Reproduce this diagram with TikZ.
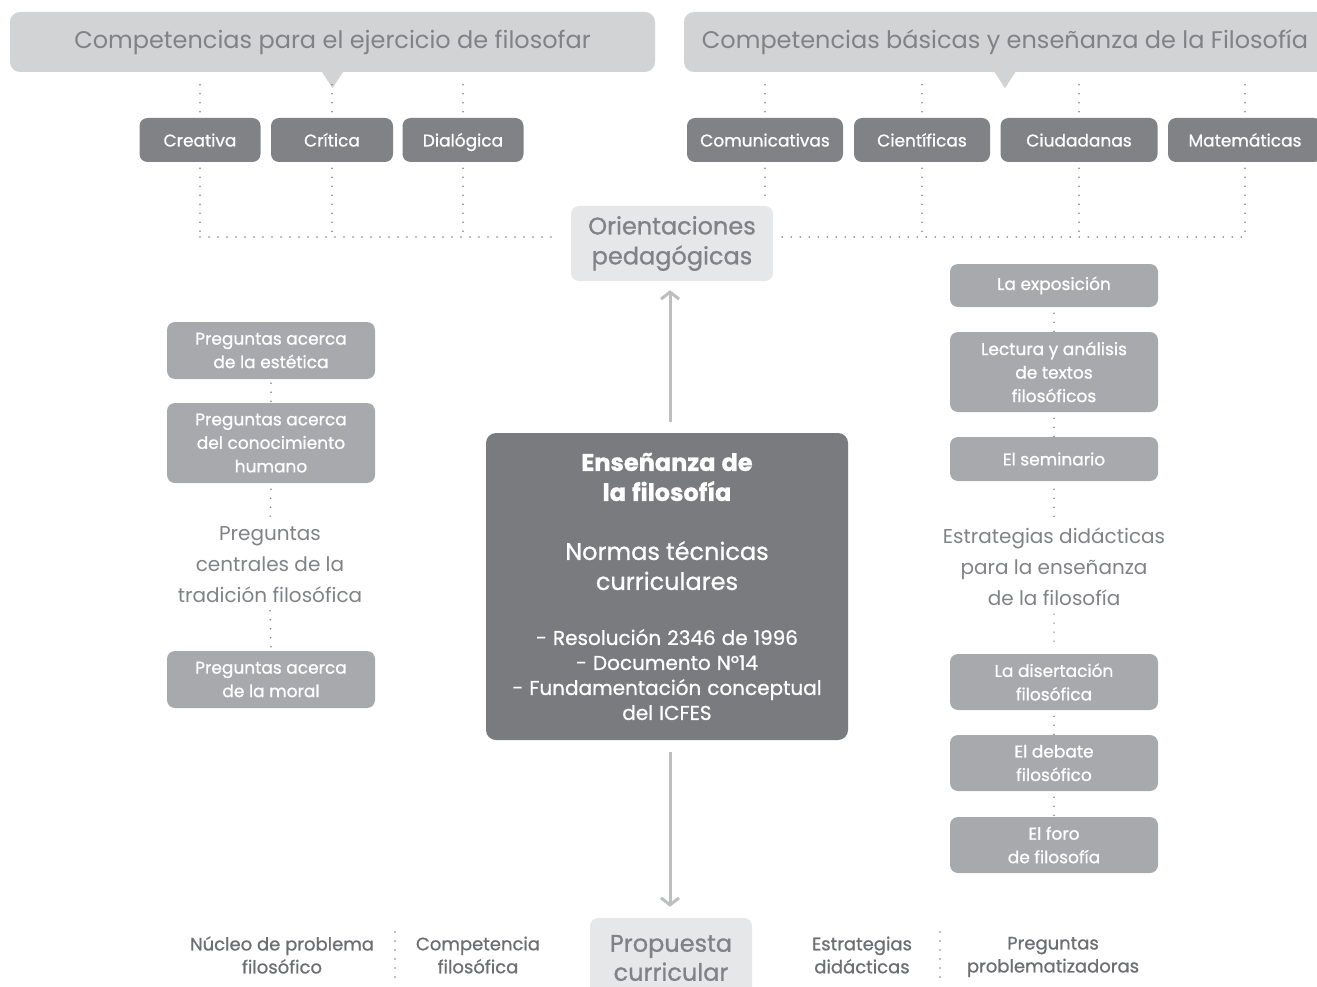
\documentclass[tikz,border=0pt]{standalone}
\usepackage{fontspec}
\setmainfont{Poppins}
\newfontfamily\medfont[FakeBold=0.9]{Poppins}
\usetikzlibrary{arrows.meta}
\definecolor{callgray}{HTML}{D1D3D4}
\definecolor{palegray}{HTML}{E6E7E8}
\definecolor{boxgray}{HTML}{808285}
\definecolor{maingray}{HTML}{7A7B7E}
\definecolor{midgray}{HTML}{A7A9AC}
\definecolor{titlegray}{HTML}{808285}
\definecolor{labelgray}{HTML}{6D6E71}
\definecolor{arrowgray}{HTML}{BCBEC0}
\begin{document}
\begin{tikzpicture}[x=1pt, y=-1pt,
	every node/.style={font=\medfont\fontsize{18}{23}\selectfont, align=center, inner sep=0pt},
	callout/.style={fill=callgray, rounded corners=10pt, minimum height=60pt, text=titlegray, font=\fontsize{24}{28}\selectfont},
	compbox/.style={fill=boxgray, rounded corners=8pt, minimum height=44pt, text height=15pt, text depth=2pt, text=white, font=\medfont\fontsize{17}{22}\selectfont},
	qbox/.style={fill=midgray, rounded corners=8pt, minimum width=208pt, text=white, font=\medfont\fontsize{17}{23.5}\selectfont},
	palebox/.style={fill=palegray, rounded corners=8pt, text=titlegray, font=\medfont\fontsize{24}{30}\selectfont},
	graytext/.style={text=titlegray, font=\fontsize{20}{31}\selectfont},
	smalltext/.style={text=labelgray},
	dots/.style={draw=titlegray, line width=1.7pt, line cap=round, dash pattern=on 0pt off 9pt},
	bigarrow/.style={draw=arrowgray, line width=3pt, -{Straight Barb[length=7pt, width=18pt, line width=3pt]}}]
	\clip (0,0) rectangle (1317,987);
	\coordinate (topdots) at (0,79);
	\coordinate (hline) at (0,237);
	\node[callout, minimum width=645pt] (filosofar) at (332.5,42) {Competencias para el ejercicio de filosofar};
	\fill[callgray] ([xshift=-11pt, yshift=1pt]filosofar.south) -- ([xshift=11pt, yshift=1pt]filosofar.south) -- ([yshift=-16pt]filosofar.south) -- cycle;
	\node[callout, minimum width=642pt] (basicas) at (1005,42) {Competencias básicas y enseñanza de la Filosofía};
	\fill[callgray] ([xshift=-11pt, yshift=1pt]basicas.south) -- ([xshift=11pt, yshift=1pt]basicas.south) -- ([yshift=-16pt]basicas.south) -- cycle;
	\foreach \n/\x/\w/\t in {creativa/200/121/Creativa, critica/332/122/Crítica, dialogica/463/121/Dialógica, comunicativas/765/156/Comunicativas, cientificas/922/136/Científicas, ciudadanas/1079/157/Ciudadanas, matematicas/1245/154/Matemáticas}
		\node[compbox, minimum width=\w pt] (\n) at (\x,140) {\t};
	\foreach \n in {creativa, critica, dialogica, comunicativas, cientificas, ciudadanas, matematicas}
		\draw[dots] ([yshift=6pt]\n.north) -- (\n.north |- topdots);
	\node[palebox, minimum width=202pt, minimum height=75pt] (orient) at (672,243.5) {Orientaciones\\pedagógicas};
	\foreach \n in {creativa, critica, dialogica, cientificas, ciudadanas, matematicas}
		\draw[dots] ([yshift=-6pt]\n.south) -- (\n.south |- hline);
	\draw[dots] ([yshift=-6pt]comunicativas.south) -- ([yshift=6pt]comunicativas.south |- orient.north);
	\draw[dots] (creativa.south |- hline) -- ([xshift=-14pt]orient.west |- hline);
	\draw[dots] ([xshift=9pt]orient.east |- hline) -- (matematicas.south |- hline);
	\node[fill=maingray, rounded corners=10pt, minimum width=362pt, minimum height=307pt, text width=350pt, text=white] (ensenanza) at (667,586.5) {%
		\fontsize{24}{30}\selectfont\bfseries Enseñanza de\\la filosofía\par
		\vspace{29pt}\mdseries\medfont Normas técnicas\\curriculares\par
		\vspace{30pt}\fontsize{20}{25}\selectfont - Resolución 2346 de 1996\\- Documento N°14\\- Fundamentación conceptual\\del ICFES\par};
	\draw[bigarrow, shorten <=11pt, shorten >=9pt] (ensenanza.north -| 670,0) -- (orient.south -| 670,0);
	\node[qbox, minimum height=57pt] (estetica) at (271,350.5) {Preguntas acerca\\de la estética};
	\node[qbox, minimum height=80pt] (conocimiento) at (271,443) {Preguntas acerca\\del conocimiento\\humano};
	\node[graytext] (centrales) at (270,564.5) {Preguntas\\centrales de la\\tradición filosófica};
	\node[qbox, minimum height=57pt] (moral) at (271,679.5) {Preguntas acerca\\de la moral};
	\draw[dots] ([yshift=-4pt]estetica.south) -- (conocimiento.north);
	\draw[dots] ([yshift=-6pt]conocimiento.south) -- ([yshift=4pt]centrales.north);
	\draw[dots] ([yshift=-8pt]centrales.south) -- ([yshift=4pt]moral.north);
	\node[qbox, minimum height=43pt] (exposicion) at (1054,285.5) {La exposición};
	\node[qbox, minimum height=80pt] (lectura) at (1054,372) {Lectura y análisis\\de textos\\filosóficos};
	\node[qbox, minimum height=44pt] (seminario) at (1054,459) {El seminario};
	\node[graytext] (estrategias) at (1054,567) {Estrategias didácticas\\para la enseñanza\\de la filosofía};
	\node[qbox, minimum height=56pt] (disertacion) at (1054,682) {La disertación\\filosófica};
	\node[qbox, minimum height=56pt] (debate) at (1054,763) {El debate\\filosófico};
	\node[qbox, minimum height=56pt] (foro) at (1054,845) {El foro\\de filosofía};
	\draw[dots] ([yshift=-6pt]exposicion.south) -- (lectura.north);
	\draw[dots] ([yshift=-6pt]lectura.south) -- (seminario.north);
	\draw[dots] ([yshift=-8pt]seminario.south) -- ([yshift=4pt]estrategias.north);
	\draw[dots] ([yshift=-8pt]estrategias.south) -- ([yshift=4pt]disertacion.north);
	\draw[dots] ([yshift=-6pt]disertacion.south) -- (debate.north);
	\draw[dots] ([yshift=-6pt]debate.south) -- (foro.north);
	\node[palebox, minimum width=162pt, minimum height=80pt, font=\medfont\fontsize{24}{29}\selectfont] (propuesta) at (671,958) {Propuesta\\curricular};
	\draw[bigarrow, shorten <=12pt, shorten >=11pt] (ensenanza.south -| 670,0) -- (propuesta.north -| 670,0);
	\node[smalltext] (nucleo) at (282,955) {Núcleo de problema\\filosófico};
	\node[smalltext] (competencia) at (478,955) {Competencia\\filosófica};
	\node[smalltext] (estrategiasb) at (862,955) {Estrategias\\didácticas};
	\node[smalltext] (preguntas) at (1053,957) {Preguntas\\problematizadoras};
	\draw[dots] (395,932) -- (395,980);
	\draw[dots] (940,932) -- (940,980);
\end{tikzpicture}
\end{document}
